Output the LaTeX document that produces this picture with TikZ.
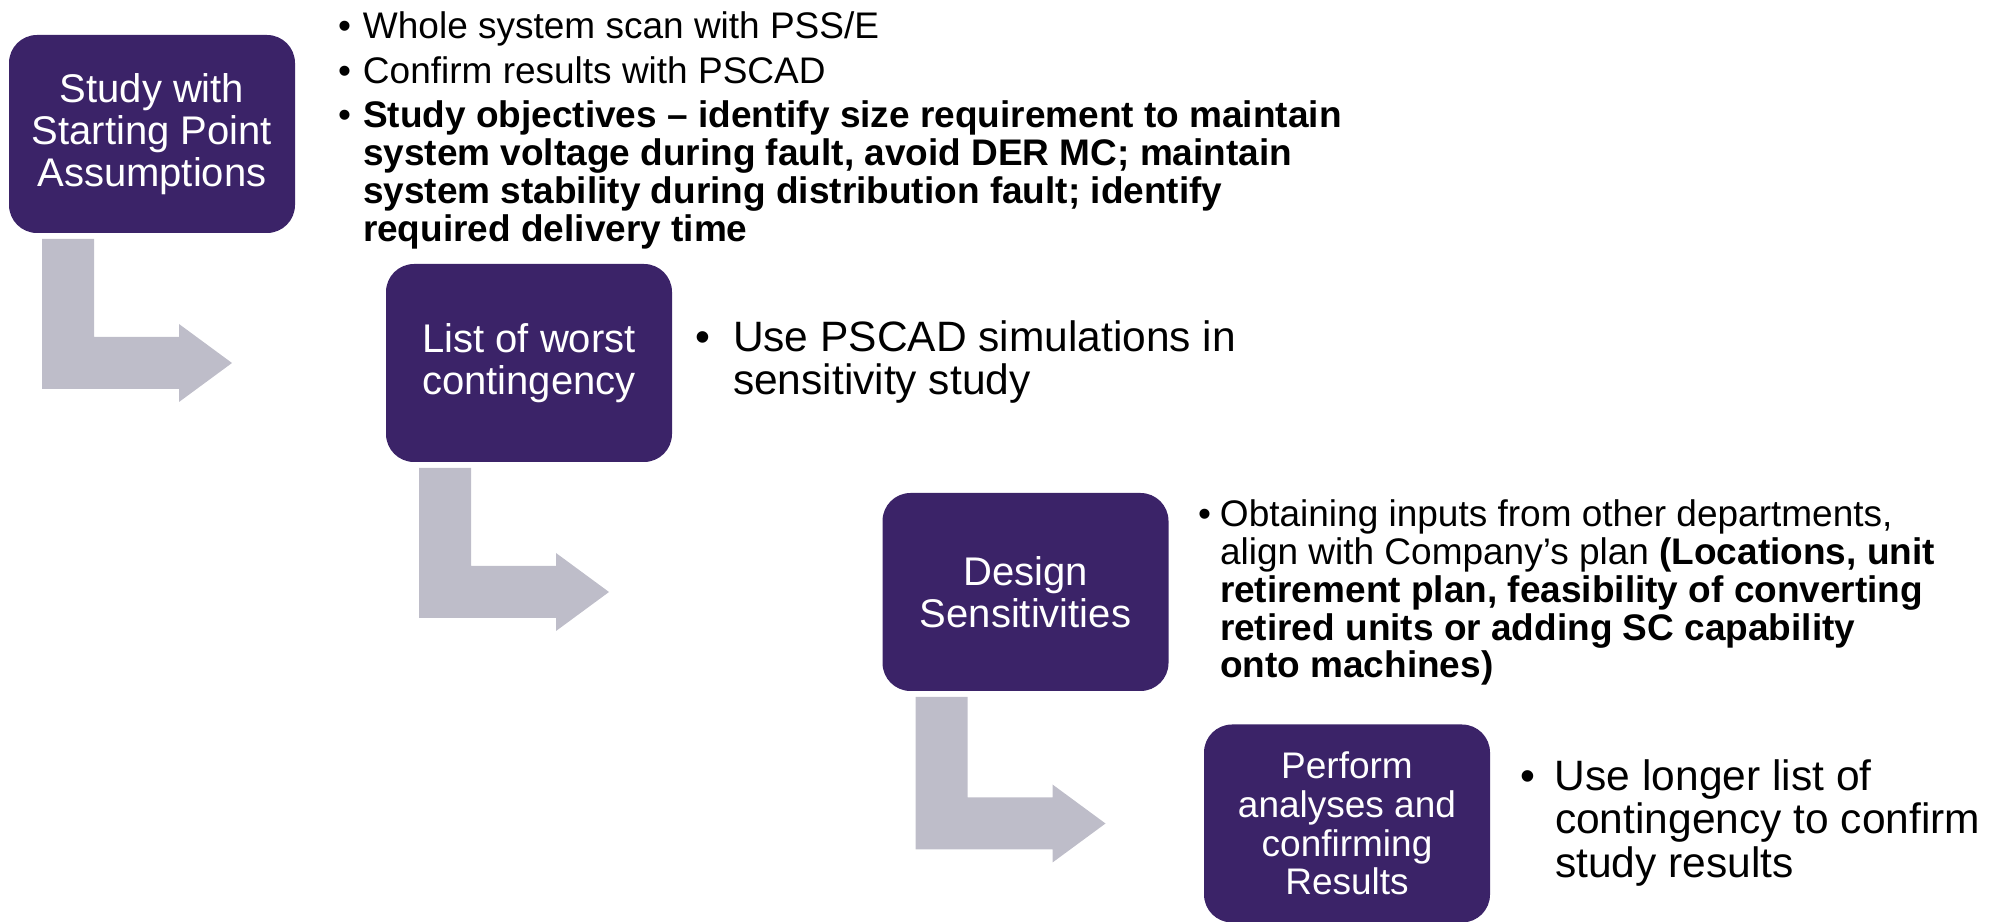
\documentclass[tikz,border=0pt]{standalone}
\usepackage{fontspec}
\setmainfont{Liberation Sans}
\usepackage{tikz}
\usetikzlibrary{
calc,
positioning,
}
\definecolor{stagepurple}{RGB}{59,35,104}
\definecolor{flowgray}{RGB}{190,189,201}
\tikzset{
x=1pt,
y=1pt,
outer sep=0pt,
stage/.style={rectangle, rounded corners=28pt, fill=stagepurple, text=white,
  minimum width=286pt, minimum height=198pt, inner sep=0pt, align=center,
  font=\fontsize{40}{42}\selectfont},
note/.style={anchor=base west, align=left, inner sep=0pt,
  font=\fontsize{37}{37.8}\selectfont},
bignote/.style={note, font=\fontsize{42.5}{43.5}\selectfont},
flow/.style={fill=flowgray},
}
\newcommand\bul[1]{\makebox[#1][l]{\textbullet}}
\newcommand\bulpad[1]{\hspace*{#1}}
% fat bent arrow from below one stage to the left of the next
\newcommand\bentarrow[2]{%
  \path ($(#1.south west)+(33,-6)$) coordinate (ba) (ba |- #2.center) coordinate (bt);
  \fill[flow] (ba) -- ++(52,0) |- ($(bt)+(137,26)$) -- ++(0,13)
    -- ($(bt)+(190,0)$) -- ($(bt)+(137,-39)$) -- ++(0,13)
    -- ($(bt)+(0,-26)$) -- cycle;
}

\begin{document}
\begin{tikzpicture}
\useasboundingbox (0,0) rectangle (1997,921);
\node (s1) [stage] at (152,787) {Study with\\Starting Point\\Assumptions};
\node (s2) [stage, below right=31pt and 91pt of s1] {List of worst\\contingency};
\node (s3) [stage, below right=31pt and 210.5pt of s2] {Design\\Sensitivities};
\node (s4) [stage, below right=33.5pt and 35.5pt of s3,
  font=\fontsize{37}{38.7}\selectfont] {Perform\\analyses and\\confirming\\Results};
\bentarrow{s1}{s2}
\bentarrow{s2}{s3}
\bentarrow{s3}{s4}
% notes are placed at the baseline of their last line
\node (n1) [note, font=\fontsize{37}{38.3}\selectfont] at (338,679) {%
  \bul{25pt}Whole system scan with PSS/E\\[6.7pt]
  \bul{25pt}Confirm results with PSCAD\\[5.7pt]
  \bul{25pt}\textbf{Study objectives – identify size requirement to maintain}\\
  \bulpad{25pt}\textbf{system voltage during fault, avoid DER MC; maintain}\\
  \bulpad{25pt}\textbf{system stability during distribution fault; identify}\\
  \bulpad{25pt}\textbf{required delivery time}};
\node (n2) [bignote] at (695,526) {%
  \bul{38pt}Use PSCAD simulations in\\
  \bulpad{38pt}sensitivity study};
\node (n3) [note] at (1198,243) {%
  \bul{22pt}Obtaining inputs from other departments,\\
  \bulpad{22pt}align with Company’s plan \textbf{(Locations, unit}\\
  \bulpad{22pt}\textbf{retirement plan, feasibility of converting}\\
  \bulpad{22pt}\textbf{retired units or adding SC capability}\\
  \bulpad{22pt}\textbf{onto machines)}};
\node (n4) [bignote] at (1520,44) {%
  \bul{35pt}Use longer list of\\
  \bulpad{35pt}contingency to confirm\\
  \bulpad{35pt}study results};
\end{tikzpicture}
\end{document}
